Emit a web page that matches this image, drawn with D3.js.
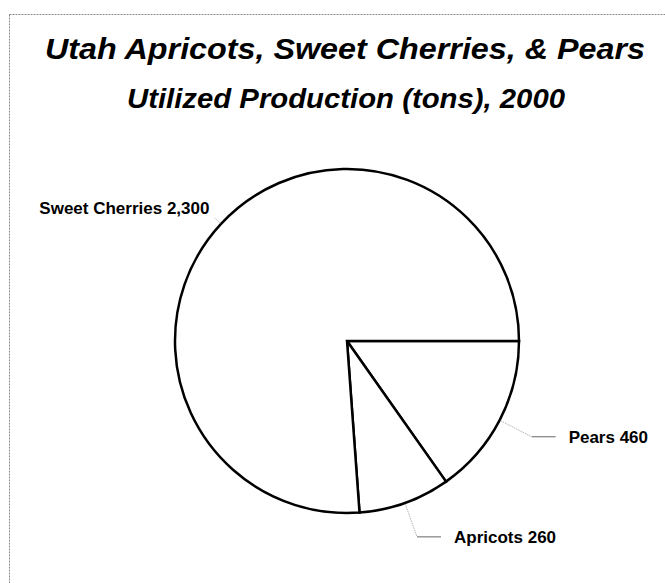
<!DOCTYPE html>
<html>
<head>
<meta charset="utf-8">
<script src="https://cdn.jsdelivr.net/npm/d3@7"></script>
<style>
  html, body { margin: 0; padding: 0; background: #fff; }
  svg { display: block; font-family: "Liberation Sans", Arial, Helvetica, sans-serif; }
</style>
</head>
<body>
<svg id="chart" width="665" height="583"></svg>
<script>
// Utah fruit production, 2000 (tons)
const fruits = ["Pears", "Apricots", "Sweet Cherries"];
const tons = [460, 260, 2300];
const titleText = "Utah Apricots, Sweet Cherries, & Pears";
const subtitleText = "Utilized Production (tons), 2000";

const svg = d3.select("#chart");
const W = 665, H = 583;

// outer frame (runs off the right and bottom of the page)
svg.append("rect")
  .attr("x", 9.5).attr("y", 14.5)
  .attr("width", W + 20).attr("height", H + 20)
  .attr("fill", "none")
  .attr("stroke", "#8a8a8a")
  .attr("stroke-width", 1)
  .attr("stroke-dasharray", "2,1");

// titles
svg.append("text")
  .attr("x", 345).attr("y", 59)
  .attr("text-anchor", "middle")
  .attr("font-size", 30)
  .attr("font-weight", "bold")
  .attr("font-style", "italic")
  .attr("textLength", 600)
  .attr("lengthAdjust", "spacingAndGlyphs")
  .text(titleText);

svg.append("text")
  .attr("x", 346).attr("y", 108)
  .attr("text-anchor", "middle")
  .attr("font-size", 28)
  .attr("font-weight", "bold")
  .attr("font-style", "italic")
  .attr("textLength", 438)
  .attr("lengthAdjust", "spacingAndGlyphs")
  .text(subtitleText);

// pie
const cx = 347, cy = 341, r = 172;
const data = fruits.map((f, i) => ({ name: f, value: tons[i] }));

const pie = d3.pie()
  .value(d => d.value)
  .sort(null)
  .startAngle(Math.PI / 2)
  .endAngle(Math.PI / 2 + 2 * Math.PI);

const arcs = pie(data);
const arc = d3.arc().innerRadius(0).outerRadius(r);

const g = svg.append("g").attr("transform", `translate(${cx},${cy})`);

g.selectAll("path.slice")
  .data(arcs)
  .join("path")
  .attr("class", "slice")
  .attr("d", arc)
  .attr("fill", "#fff")
  .attr("stroke", "#000")
  .attr("stroke-width", 2.5)
  .attr("stroke-linejoin", "miter");

// labels with leader lines
const fmt = d3.format(",");
const polar = (a, rad) => [Math.sin(a) * rad, -Math.cos(a) * rad];

arcs.forEach(d => {
  const mid = (d.startAngle + d.endAngle) / 2;
  const label = `${d.data.name} ${fmt(d.data.value)}`;
  const p0 = polar(mid, r + 1);
  const right = Math.sin(mid) > 0;

  if (right) {
    const p1 = polar(mid, 208);
    const p2 = [p1[0] + 24, p1[1]];
    g.append("line")
      .attr("x1", p0[0]).attr("y1", p0[1])
      .attr("x2", p1[0]).attr("y2", p1[1])
      .attr("stroke", "#9a9a9a").attr("stroke-width", 0.8)
      .attr("stroke-dasharray", "1.5,1");
    g.append("line")
      .attr("x1", p1[0]).attr("y1", p1[1])
      .attr("x2", p2[0]).attr("y2", p2[1])
      .attr("stroke", "#666").attr("stroke-width", 1);
    g.append("text")
      .attr("x", p2[0] + 13).attr("y", p2[1] + 6)
      .attr("font-size", 17)
      .attr("font-weight", "bold")
      .attr("fill", "#000")
      .text(label);
  } else {
    const p1 = polar(mid, r + 9);
    g.append("line")
      .attr("x1", p0[0]).attr("y1", p0[1])
      .attr("x2", p1[0]).attr("y2", p1[1])
      .attr("stroke", "#9a9a9a").attr("stroke-width", 0.8)
      .attr("stroke-dasharray", "1.5,1");
    g.append("text")
      .attr("x", p1[0] - 5).attr("y", p1[1] - 4)
      .attr("text-anchor", "end")
      .attr("font-size", 17)
      .attr("font-weight", "bold")
      .attr("fill", "#000")
      .text(label);
  }
});
</script>
</body>
</html>
